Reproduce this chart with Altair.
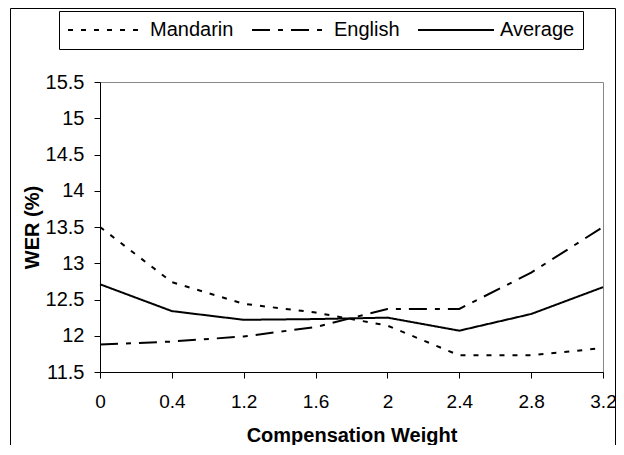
import altair as alt
import pandas as pd

weights = ["0", "0.4", "1.2", "1.6", "2", "2.4", "2.8", "3.2"]
series_names = ["Mandarin", "English", "Average"]
mandarin = [13.5, 12.74, 12.44, 12.32, 12.14, 11.73, 11.73, 11.83]
english = [11.88, 11.92, 11.99, 12.12, 12.37, 12.37, 12.87, 13.5]
average = [12.71, 12.34, 12.22, 12.23, 12.25, 12.07, 12.30, 12.67]
y_ticks = [11.5, 12, 12.5, 13, 13.5, 14, 14.5, 15, 15.5]

rows = []
for name, vals in zip(series_names, [mandarin, english, average]):
    for w, v in zip(weights, vals):
        rows.append({"weight": w, "wer": v, "series": name})
df = pd.DataFrame(rows)

FONT = "Liberation Sans"

lines = alt.Chart(df).mark_line(color="black", strokeWidth=2).encode(
    x=alt.X("weight:N", sort=weights,
            scale=alt.Scale(type="point", padding=0),
            axis=alt.Axis(title="Compensation Weight", labelAngle=0,
                          labelFontSize=19, labelPadding=14, titlePadding=14)),
    y=alt.Y("wer:Q", scale=alt.Scale(domain=[11.5, 15.5], nice=False, zero=False),
            axis=alt.Axis(values=y_ticks, format="~g", title="WER (%)",
                          labelPadding=10, titlePadding=3)),
    strokeDash=alt.StrokeDash(
        "series:N", sort=series_names,
        scale=alt.Scale(domain=series_names, range=[[5, 8], [18, 8, 5, 8], [1, 0]]),
        legend=alt.Legend(title=None, orient="none", legendX=-41, legendY=-71,
                          direction="horizontal", columns=3,
                          symbolType="stroke", symbolSize=5776, clipHeight=22,
                          symbolStrokeWidth=2, symbolStrokeColor="black",
                          labelFontSize=20, labelFont=FONT, labelColor="black",
                          labelOffset=5, columnPadding=17, padding=8,
                          strokeColor="black", fillColor="white"),
    ),
)

frame = alt.Chart(pd.DataFrame({"k": [0]})).mark_rect(
    filled=False, stroke="black", strokeWidth=1
).encode(
    x=alt.value(-89.5), x2=alt.value(515.5),
    y=alt.value(-73.5), y2=alt.value(420),
)

chart = alt.layer(frame, lines).properties(
    width=503, height=290,
    padding={"left": 92, "top": 74, "right": 13, "bottom": 73},
    autosize=alt.AutoSizeParams(type="none"),
    background="white",
).configure_view(stroke="#888888", strokeWidth=1).configure_axis(
    domainColor="black", tickColor="black", tickSize=6, grid=False,
    labelFont=FONT, labelFontSize=20, labelColor="black",
    titleFont=FONT, titleFontSize=20, titleFontWeight="bold", titleColor="black",
)

chart.save("out.html", embed_options={"renderer": "svg", "actions": False})
